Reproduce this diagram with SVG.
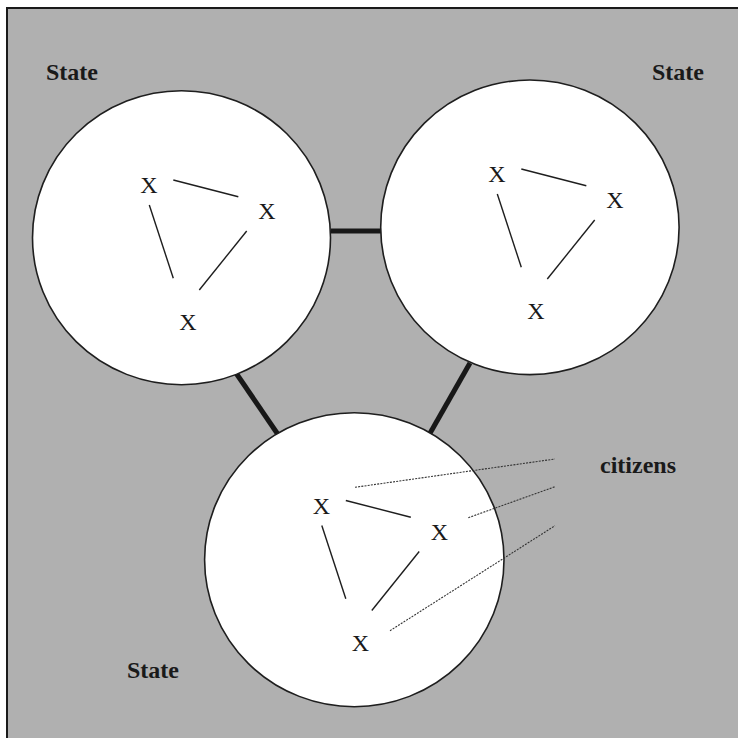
<svg xmlns="http://www.w3.org/2000/svg" width="738" height="738" viewBox="0 0 738 738">
  <style>
    .state { fill: #ffffff; stroke: #1e1e1e; stroke-width: 1.6; }
    .tie { stroke: #181818; stroke-width: 5; stroke-linecap: butt; }
    .link { stroke: #1e1e1e; stroke-width: 1.4; }
    .dot { stroke: #333333; stroke-width: 1.1; stroke-dasharray: 2 1.2; }
    .x { font-family: "Liberation Serif", "Times New Roman", serif; font-size: 24px; fill: #1a1a1a; text-anchor: middle; }
    .lbl { font-family: "Liberation Serif", "Times New Roman", serif; font-size: 24px; font-weight: bold; fill: #1a1a1a; }
  </style>
  <defs>
    <!-- three citizens joined to each other, shared by every state -->
    <g id="citizens-triad">
      <line class="link" x1="173.3" y1="180" x2="238.3" y2="196.7"/>
      <line class="link" x1="149.3" y1="205" x2="173.3" y2="278.3"/>
      <line class="link" x1="246.7" y1="231" x2="199.3" y2="290"/>
      <text class="x" x="149" y="193">X</text>
      <text class="x" x="267" y="219">X</text>
      <text class="x" x="188" y="330">X</text>
    </g>
  </defs>

  <!-- background panel -->
  <rect x="0" y="0" width="738" height="738" fill="#ffffff"/>
  <rect x="7" y="8" width="740" height="740" fill="#b0b0b0" stroke="#1a1a1a" stroke-width="2"/>

  <!-- ties between states -->
  <g id="connectors">
    <line class="tie" x1="331" y1="231" x2="382" y2="231"/>
    <line class="tie" x1="236" y1="373" x2="279" y2="436"/>
    <line class="tie" x1="470" y1="363" x2="429" y2="435"/>
  </g>

  <g id="state-left">
    <ellipse class="state" cx="181.5" cy="237.7" rx="149" ry="147"/>
    <use href="#citizens-triad"/>
    <text class="lbl" x="46" y="80">State</text>
  </g>

  <g id="state-right">
    <ellipse class="state" cx="529.9" cy="227.3" rx="149.2" ry="147.3"/>
    <use href="#citizens-triad" transform="translate(348 -11)"/>
    <text class="lbl" x="652" y="80">State</text>
  </g>

  <g id="state-bottom">
    <ellipse class="state" cx="354.3" cy="559.7" rx="149.7" ry="147"/>
    <use href="#citizens-triad" transform="translate(172.5 320.5)"/>
    <text class="lbl" x="127" y="678">State</text>
  </g>

  <!-- pointers to the citizens -->
  <g id="citizens-label">
    <line class="dot" x1="355" y1="487.3" x2="555" y2="459"/>
    <line class="dot" x1="468.3" y1="517.7" x2="555" y2="486.7"/>
    <line class="dot" x1="390" y1="630.7" x2="555" y2="525.7"/>
    <text class="lbl" x="600" y="473">citizens</text>
  </g>
</svg>
